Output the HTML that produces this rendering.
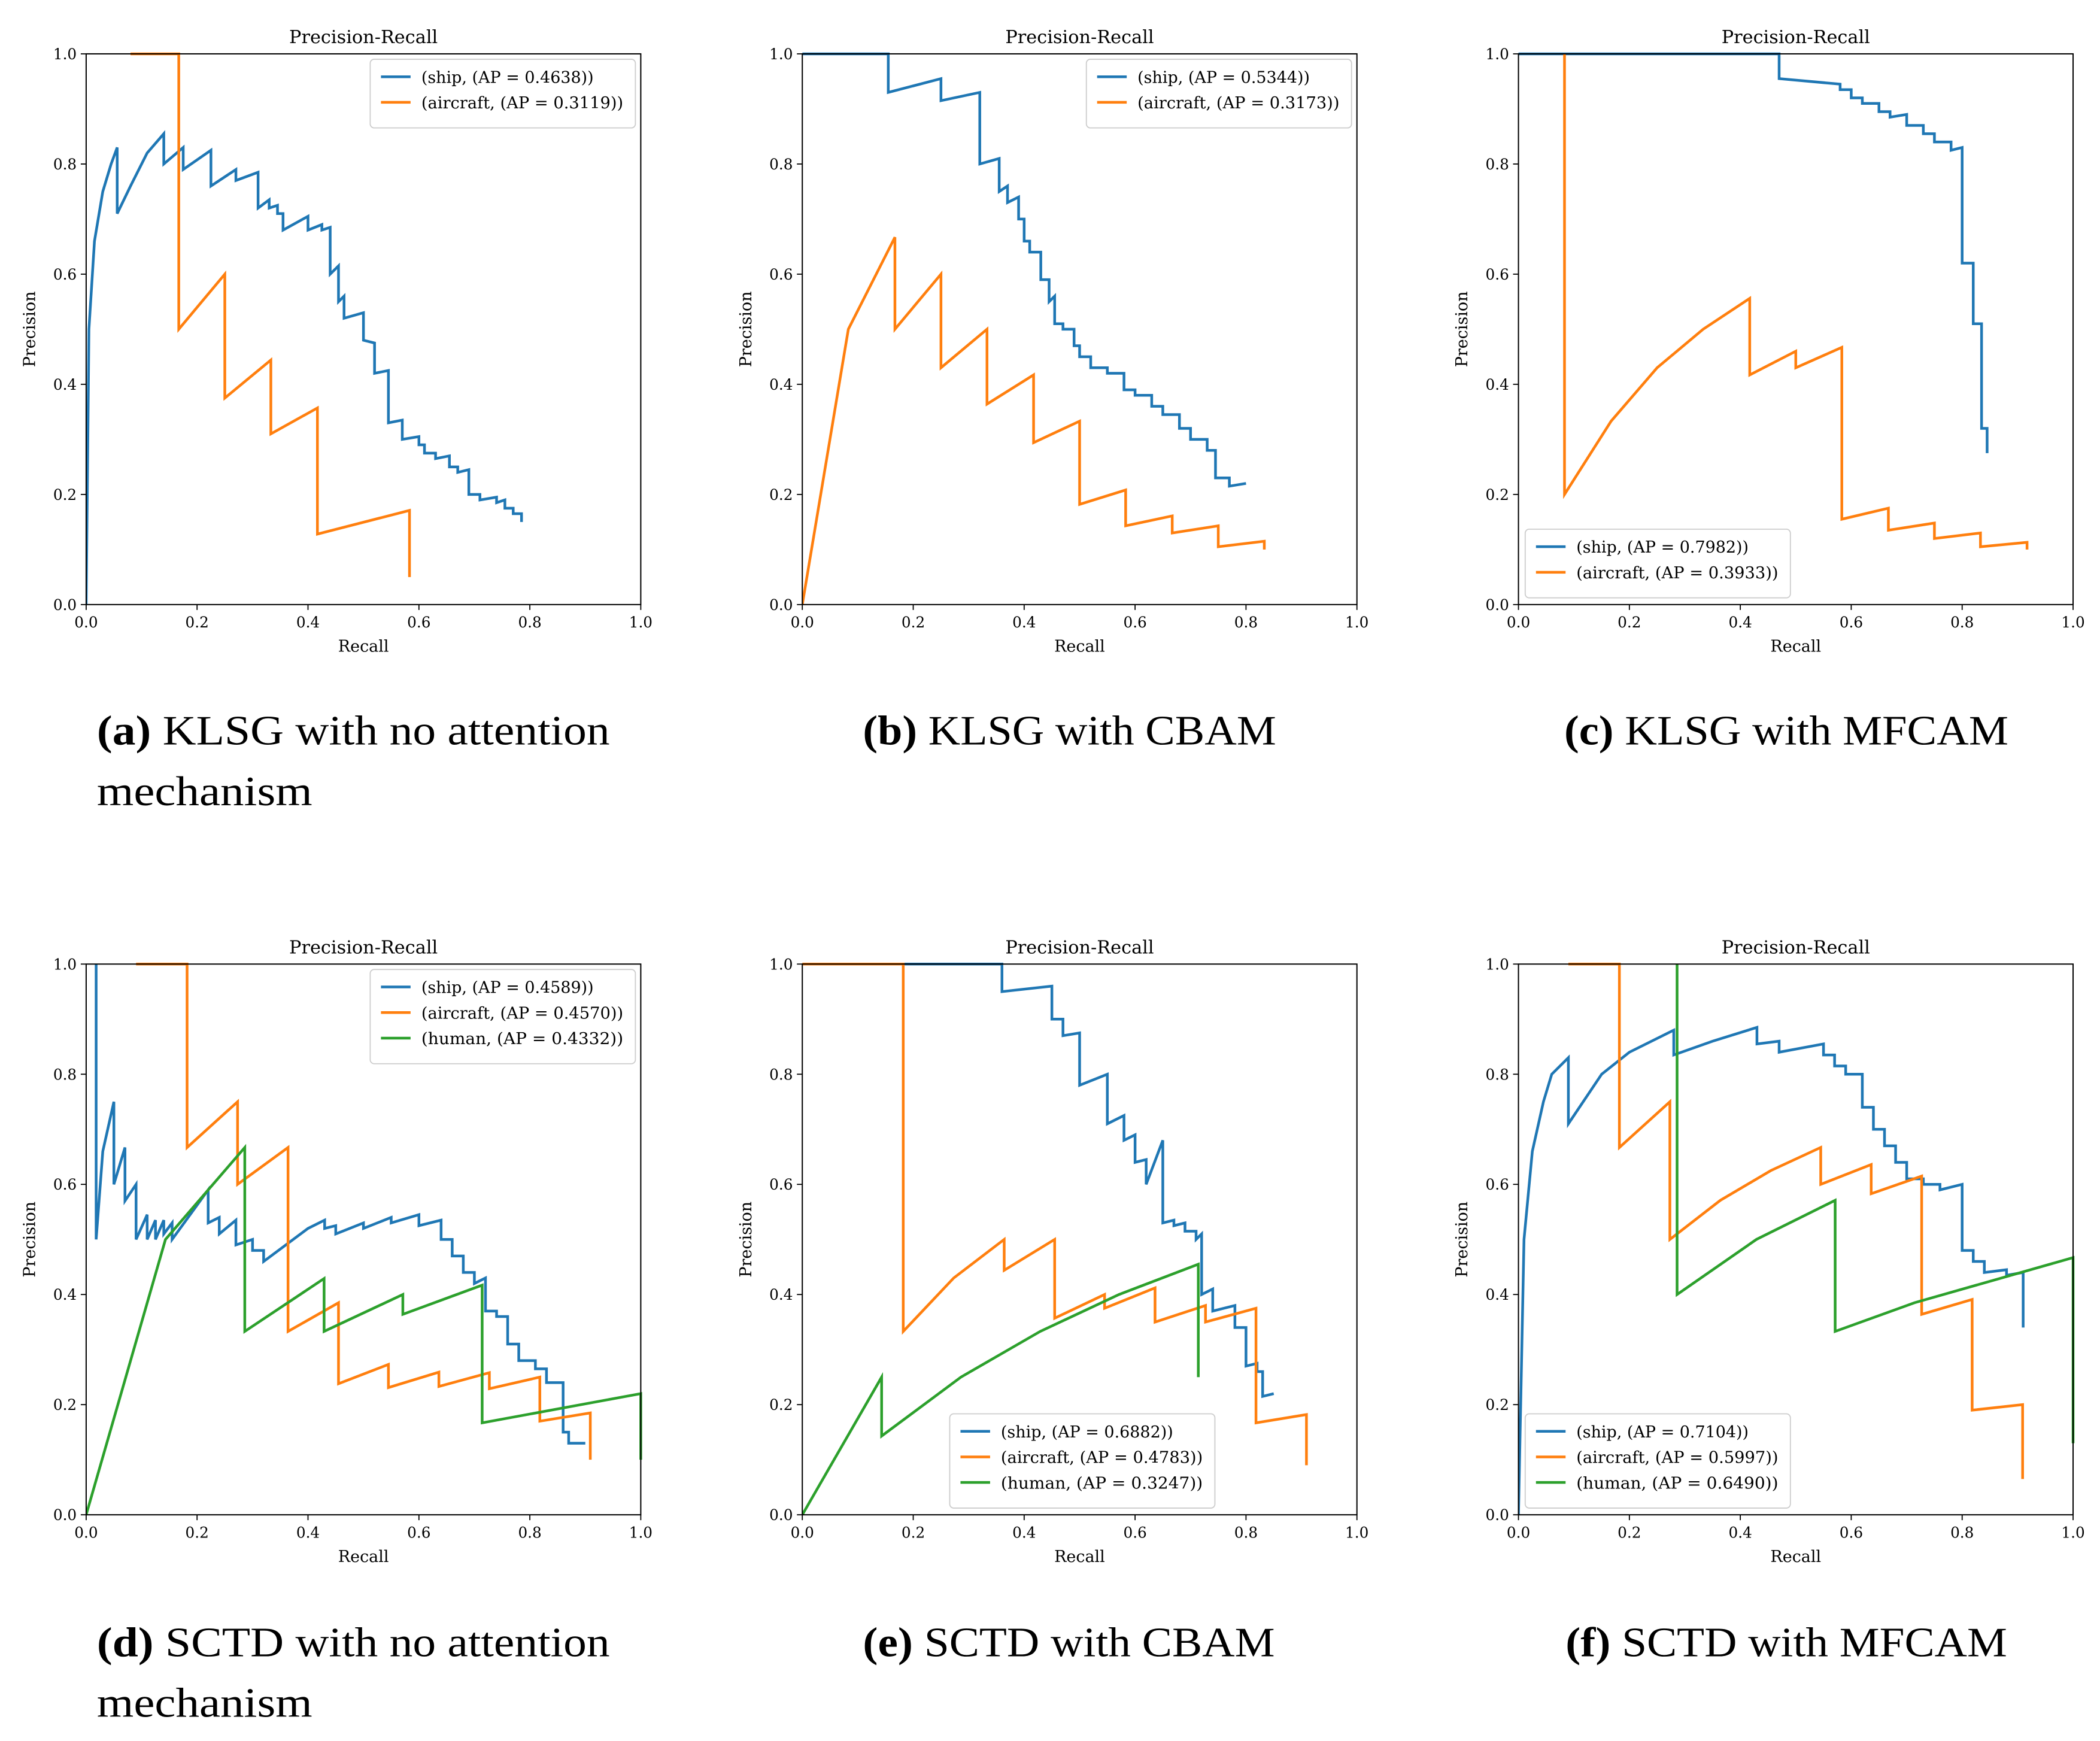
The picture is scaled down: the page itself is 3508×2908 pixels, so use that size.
<!DOCTYPE html>
<html><head><meta charset="utf-8"><style>html,body{margin:0;padding:0;background:#fff}svg{display:block}</style></head>
<body>
<svg id="fig" width="3508" height="2908" viewBox="0 0 1560 1293" preserveAspectRatio="none" xmlns="http://www.w3.org/2000/svg" font-family="'DejaVu Serif','Liberation Serif',serif"></svg>
<script>
const ticks=[0,0.2,0.4,0.6,0.8,1.0];
const tickLabels=["0.0","0.2","0.4","0.6","0.8","1.0"];
const aShipR=[0,0.005,0.015,0.03,0.045,0.056,0.056,0.08,0.11,0.14,0.14,0.175,0.175,0.225,0.225,0.27,0.27,0.31,0.31,0.33,0.33,0.345,0.345,0.355,0.355,0.4,0.4,0.425,0.425,0.44,0.44,0.455,0.455,0.465,0.465,0.5,0.5,0.52,0.52,0.545,0.545,0.57,0.57,0.6,0.6,0.61,0.61,0.63,0.63,0.655,0.655,0.67,0.67,0.69,0.69,0.71,0.71,0.74,0.74,0.755,0.755,0.77,0.77,0.785,0.785];
const aShipP=[0,0.5,0.66,0.75,0.8,0.83,0.71,0.76,0.82,0.855,0.8,0.83,0.79,0.825,0.76,0.79,0.77,0.785,0.72,0.735,0.72,0.725,0.71,0.71,0.68,0.705,0.68,0.69,0.68,0.685,0.6,0.615,0.55,0.56,0.52,0.53,0.48,0.475,0.42,0.425,0.33,0.335,0.3,0.305,0.29,0.29,0.275,0.275,0.265,0.27,0.25,0.25,0.24,0.245,0.2,0.2,0.19,0.195,0.185,0.19,0.175,0.175,0.165,0.165,0.15];
const aAirR=[0.08,0.167,0.167,0.25,0.25,0.333,0.333,0.417,0.417,0.583,0.583];
const aAirP=[1,1,0.5,0.6,0.375,0.444,0.31,0.357,0.128,0.171,0.05];
const bShipR=[0,0.155,0.155,0.25,0.25,0.32,0.32,0.355,0.355,0.37,0.37,0.39,0.39,0.4,0.4,0.41,0.41,0.43,0.43,0.445,0.445,0.455,0.455,0.47,0.47,0.49,0.49,0.5,0.5,0.52,0.52,0.55,0.55,0.58,0.58,0.6,0.6,0.63,0.63,0.65,0.65,0.68,0.68,0.7,0.7,0.73,0.73,0.745,0.745,0.77,0.77,0.8];
const bShipP=[1,1,0.93,0.955,0.915,0.93,0.8,0.81,0.75,0.76,0.73,0.74,0.7,0.7,0.66,0.66,0.64,0.64,0.59,0.59,0.55,0.56,0.51,0.51,0.5,0.5,0.47,0.47,0.45,0.45,0.43,0.43,0.42,0.42,0.39,0.39,0.38,0.38,0.36,0.36,0.345,0.345,0.32,0.32,0.3,0.3,0.28,0.28,0.23,0.23,0.215,0.22];
const bAirR=[0,0.083,0.167,0.167,0.25,0.25,0.333,0.333,0.417,0.417,0.5,0.5,0.583,0.583,0.667,0.667,0.75,0.75,0.833,0.833];
const bAirP=[0,0.5,0.667,0.5,0.6,0.43,0.5,0.364,0.417,0.294,0.333,0.182,0.208,0.143,0.161,0.13,0.143,0.105,0.115,0.1];
const cShipR=[0,0.47,0.47,0.58,0.58,0.6,0.6,0.62,0.62,0.65,0.65,0.67,0.67,0.7,0.7,0.73,0.73,0.75,0.75,0.78,0.78,0.8,0.8,0.82,0.82,0.835,0.835,0.845,0.845];
const cShipP=[1,1,0.955,0.945,0.935,0.935,0.92,0.92,0.91,0.91,0.895,0.895,0.885,0.89,0.87,0.87,0.855,0.855,0.84,0.84,0.825,0.83,0.62,0.62,0.51,0.51,0.32,0.32,0.275];
const cAirR=[0.083,0.083,0.167,0.25,0.333,0.417,0.417,0.5,0.5,0.583,0.583,0.667,0.667,0.75,0.75,0.833,0.833,0.917,0.917];
const cAirP=[1,0.2,0.333,0.43,0.5,0.556,0.417,0.46,0.43,0.467,0.155,0.175,0.135,0.148,0.12,0.13,0.105,0.113,0.1];
const dShipR=[0.018,0.018,0.03,0.05,0.05,0.07,0.07,0.09,0.09,0.11,0.11,0.125,0.125,0.14,0.14,0.155,0.155,0.22,0.22,0.24,0.24,0.27,0.27,0.3,0.3,0.32,0.32,0.4,0.43,0.43,0.45,0.45,0.5,0.5,0.55,0.55,0.6,0.6,0.64,0.64,0.66,0.66,0.68,0.68,0.7,0.7,0.72,0.72,0.74,0.74,0.76,0.76,0.78,0.78,0.81,0.81,0.83,0.83,0.86,0.86,0.87,0.87,0.9];
const dShipP=[1,0.5,0.66,0.75,0.6,0.667,0.57,0.6,0.5,0.545,0.5,0.535,0.5,0.535,0.51,0.53,0.5,0.59,0.53,0.54,0.51,0.535,0.49,0.5,0.48,0.48,0.46,0.52,0.535,0.52,0.525,0.51,0.53,0.52,0.54,0.53,0.545,0.525,0.535,0.5,0.5,0.47,0.47,0.44,0.44,0.42,0.43,0.37,0.37,0.36,0.36,0.31,0.31,0.28,0.28,0.265,0.265,0.24,0.24,0.15,0.15,0.13,0.13];
const dAirR=[0.09,0.182,0.182,0.273,0.273,0.364,0.364,0.455,0.455,0.545,0.545,0.636,0.636,0.727,0.727,0.818,0.818,0.909,0.909];
const dAirP=[1,1,0.667,0.75,0.6,0.667,0.333,0.385,0.238,0.273,0.231,0.259,0.233,0.258,0.229,0.25,0.17,0.185,0.1];
const dHumR=[0,0.143,0.286,0.286,0.429,0.429,0.571,0.571,0.714,0.714,1.0,1.0];
const dHumP=[0,0.5,0.667,0.333,0.429,0.333,0.4,0.364,0.417,0.167,0.22,0.1];
const eShipR=[0,0.36,0.36,0.45,0.45,0.47,0.47,0.5,0.5,0.55,0.55,0.58,0.58,0.6,0.6,0.62,0.62,0.65,0.65,0.67,0.67,0.69,0.69,0.71,0.71,0.72,0.72,0.74,0.74,0.78,0.78,0.8,0.8,0.82,0.82,0.83,0.83,0.85];
const eShipP=[1,1,0.95,0.96,0.9,0.9,0.87,0.875,0.78,0.8,0.71,0.725,0.68,0.69,0.64,0.645,0.6,0.68,0.53,0.535,0.525,0.53,0.515,0.515,0.5,0.51,0.4,0.41,0.37,0.38,0.34,0.34,0.27,0.275,0.26,0.26,0.215,0.22];
const eAirR=[0,0.182,0.182,0.273,0.364,0.364,0.455,0.455,0.545,0.545,0.636,0.636,0.727,0.727,0.818,0.818,0.909,0.909];
const eAirP=[1,1,0.333,0.43,0.5,0.444,0.5,0.357,0.4,0.375,0.412,0.35,0.38,0.35,0.375,0.167,0.182,0.09];
const eHumR=[0,0.143,0.143,0.286,0.429,0.571,0.714,0.714];
const eHumP=[0,0.25,0.143,0.25,0.333,0.4,0.455,0.25];
const fShipR=[0,0.01,0.025,0.045,0.06,0.09,0.09,0.15,0.2,0.28,0.28,0.35,0.43,0.43,0.47,0.47,0.55,0.55,0.57,0.57,0.59,0.59,0.62,0.62,0.64,0.64,0.66,0.66,0.68,0.68,0.7,0.7,0.73,0.73,0.76,0.76,0.8,0.8,0.82,0.82,0.84,0.84,0.88,0.88,0.91,0.91];
const fShipP=[0,0.5,0.66,0.75,0.8,0.83,0.71,0.8,0.84,0.88,0.835,0.86,0.885,0.855,0.86,0.84,0.855,0.835,0.835,0.815,0.815,0.8,0.8,0.74,0.74,0.7,0.7,0.67,0.67,0.64,0.64,0.61,0.61,0.6,0.6,0.59,0.6,0.48,0.48,0.46,0.46,0.44,0.445,0.435,0.44,0.34];
const fAirR=[0.09,0.182,0.182,0.273,0.273,0.364,0.455,0.545,0.545,0.636,0.636,0.727,0.727,0.818,0.818,0.909,0.909];
const fAirP=[1,1,0.667,0.75,0.5,0.571,0.625,0.667,0.6,0.636,0.583,0.615,0.364,0.391,0.19,0.2,0.065];
const fHumR=[0.286,0.286,0.429,0.571,0.571,0.714,1.0,1.0];
const fHumP=[1,0.4,0.5,0.571,0.333,0.385,0.467,0.13];

const BLUE="#1f77b4",ORANGE="#ff7f0e",GREEN="#2ca02c";
const panels=[
 {id:"a",x0:64,y0:40,series:[[aShipR,aShipP,BLUE,"(ship, (AP = 0.4638))"],[aAirR,aAirP,ORANGE,"(aircraft, (AP = 0.3119))"]],leg:"tr",cap:["(a)"," KLSG with no attention","mechanism"],capW:381,cx:72,cy:553},
 {id:"b",x0:596,y0:40,series:[[bShipR,bShipP,BLUE,"(ship, (AP = 0.5344))"],[bAirR,bAirP,ORANGE,"(aircraft, (AP = 0.3173))"]],leg:"tr",cap:["(b)"," KLSG with CBAM"],capW:307,cx:641,cy:553},
 {id:"c",x0:1128,y0:40,series:[[cShipR,cShipP,BLUE,"(ship, (AP = 0.7982))"],[cAirR,cAirP,ORANGE,"(aircraft, (AP = 0.3933))"]],leg:"bl",cap:["(c)"," KLSG with MFCAM"],capW:330,cx:1162,cy:553},
 {id:"d",x0:64,y0:716,series:[[dShipR,dShipP,BLUE,"(ship, (AP = 0.4589))"],[dAirR,dAirP,ORANGE,"(aircraft, (AP = 0.4570))"],[dHumR,dHumP,GREEN,"(human, (AP = 0.4332))"]],leg:"tr",cap:["(d)"," SCTD with no attention","mechanism"],capW:381,cx:72,cy:1230},
 {id:"e",x0:596,y0:716,series:[[eShipR,eShipP,BLUE,"(ship, (AP = 0.6882))"],[eAirR,eAirP,ORANGE,"(aircraft, (AP = 0.4783))"],[eHumR,eHumP,GREEN,"(human, (AP = 0.3247))"]],leg:"bc",cap:["(e)"," SCTD with CBAM"],capW:306,cx:641,cy:1230},
 {id:"f",x0:1128,y0:716,series:[[fShipR,fShipP,BLUE,"(ship, (AP = 0.7104))"],[fAirR,fAirP,ORANGE,"(aircraft, (AP = 0.5997))"],[fHumR,fHumP,GREEN,"(human, (AP = 0.6490))"]],leg:"bl",cap:["(f)"," SCTD with MFCAM"],capW:328,cx:1163,cy:1230}
];
const W=412,H=409,NS="http://www.w3.org/2000/svg";
const svg=document.getElementById("fig");
function mk(tag,attrs,parent){const e=document.createElementNS(NS,tag);for(const k in attrs)e.setAttribute(k,attrs[k]);(parent||svg).appendChild(e);return e;}
panels.forEach(p=>{
 const g=mk("g",{});
 
 
 const sx=v=>p.x0+v*W, sy=v=>p.y0+H-v*H;
 const t=mk("text",{x:p.x0+W/2,y:p.y0-8,"text-anchor":"middle","font-size":13.5},g);t.textContent="Precision-Recall";
 
 
 ticks.forEach((v,i)=>{
  mk("line",{x1:sx(v),x2:sx(v),y1:p.y0+H,y2:p.y0+H+4,stroke:"#000","stroke-width":0.8},g);
  const xl=mk("text",{x:sx(v),y:p.y0+H+17,"text-anchor":"middle","font-size":11},g);xl.textContent=tickLabels[i];
  
  
  mk("line",{x1:p.x0-4,x2:p.x0,y1:sy(v),y2:sy(v),stroke:"#000","stroke-width":0.8},g);
  const yl=mk("text",{x:p.x0-7,y:sy(v)+4,"text-anchor":"end","font-size":11},g);yl.textContent=tickLabels[i];
  
  
 });
 const xt=mk("text",{x:p.x0+W/2,y:p.y0+H+35,"text-anchor":"middle","font-size":12},g);xt.textContent="Recall";
 
 
 const yt=mk("text",{x:0,y:0,"text-anchor":"middle","font-size":12,transform:`translate(${p.x0-38},${p.y0+H/2}) rotate(-90)`},g);yt.textContent="Precision";
 
 
 const clipId="clip"+p.id;
 const cp=mk("clipPath",{id:clipId},g);mk("rect",{x:p.x0,y:p.y0-2,width:W+2,height:H+3},cp);
 p.series.forEach((s,si)=>{
  const pts=s[0].map((r,i)=>sx(r).toFixed(2)+","+sy(s[1][i]).toFixed(2)).join(" ");
  const pl=mk("polyline",{points:pts,fill:"none",stroke:s[2],"stroke-width":2,"stroke-linejoin":"miter","clip-path":`url(#${clipId})`},g);
  
  
 });
 const fr=mk("rect",{x:p.x0,y:p.y0,width:W,height:H,fill:"none",stroke:"#000","stroke-width":0.9},g);
 
 
 const n=p.series.length,lw=197,lh=13+n*19;
 let lx,ly;
 if(p.leg==="tr"){lx=p.x0+W-lw-4;ly=p.y0+4;}
 else if(p.leg==="bl"){lx=p.x0+5;ly=p.y0+H-lh-5;}
 else {lx=p.x0+W/2-lw/2+2;ly=p.y0+H-lh-5;}
 const lg=mk("g",{},g);
 
 
 mk("rect",{x:lx,y:ly,width:lw,height:lh,rx:3,fill:"#fff","fill-opacity":0.85,stroke:"#ccc","stroke-width":0.8},lg);
 p.series.forEach((s,i)=>{
  const yy=ly+13+i*19;
  mk("line",{x1:lx+8,x2:lx+30,y1:yy,y2:yy,stroke:s[2],"stroke-width":2},lg);
  const lt=mk("text",{x:lx+38,y:yy+4.5,"font-size":12,textLength:150,lengthAdjust:"spacingAndGlyphs"},lg);lt.textContent=s[3];
  if(s[3].length<22) lt.setAttribute("textLength","128");
  
  
 });
 const c1=mk("text",{x:p.cx,y:p.cy,"font-size":31,"font-family":"'Liberation Serif',serif",textLength:p.capW,lengthAdjust:"spacingAndGlyphs"},g);
 
 
 const b=mk("tspan",{"font-weight":"bold"},c1);b.textContent=p.cap[0];
 const r=mk("tspan",{},c1);r.textContent=p.cap[1];
 if(p.cap[2]){const c2=mk("text",{x:p.cx,y:p.cy+45,"font-size":31,"font-family":"'Liberation Serif',serif",textLength:160,lengthAdjust:"spacingAndGlyphs"},g);c2.textContent=p.cap[2];
  
  }
});
</script>
</body></html>
